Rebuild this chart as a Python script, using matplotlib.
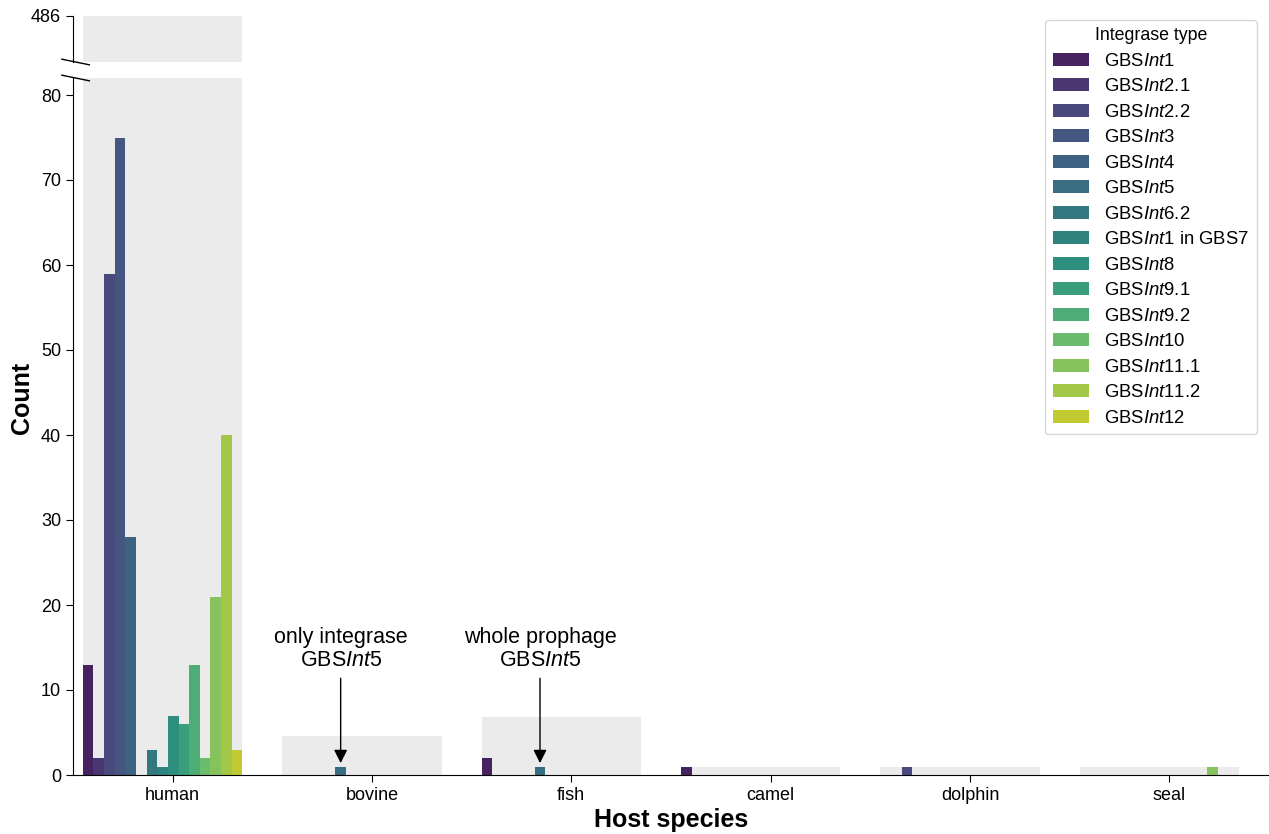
import colorsys
import numpy as np
import matplotlib
matplotlib.use('Agg')
import matplotlib.pyplot as plt

plt.rcParams['font.family'] = ['Liberation Sans', 'DejaVu Sans']
plt.rcParams['mathtext.fontset'] = 'custom'
plt.rcParams['mathtext.rm'] = 'Liberation Sans'
plt.rcParams['mathtext.it'] = 'Liberation Sans:italic'

# data
hosts = ['human', 'bovine', 'fish', 'camel', 'dolphin', 'seal']
int_types = ['1', '2.1', '2.2', '3', '4', '5', '6.2', '1 in GBS7', '8', '9.1',
             '9.2', '10', '11.1', '11.2', '12']
int_labels = [r'GBS$\mathit{Int}$' + t.split(' ')[0] + (' in GBS7' if 'GBS7' in t else '')
              for t in int_types]

human = [13, 2, 59, 75, 28, 0, 3, 1, 7, 6, 13, 2, 21, 40, 3]
bovine = [0, 0, 0, 0, 0, 1, 0, 0, 0, 0, 0, 0, 0, 0, 0]
fish = [2, 0, 0, 0, 0, 1, 0, 0, 0, 0, 0, 0, 0, 0, 0]
camel = [1, 0, 0, 0, 0, 0, 0, 0, 0, 0, 0, 0, 0, 0, 0]
dolphin = [0, 0, 1, 0, 0, 0, 0, 0, 0, 0, 0, 0, 0, 0, 0]
seal = [0, 0, 0, 0, 0, 0, 0, 0, 0, 0, 0, 0, 1, 0, 0]
counts = np.array([human, bovine, fish, camel, dolphin, seal])

totals = [486, 4.6, 6.8, 1, 1, 1]


# viridis colours, desaturated like seaborn does
def desat(c, prop=0.75):
    h, l, s = colorsys.rgb_to_hls(*c[:3])
    return colorsys.hls_to_rgb(h, l, s * prop)


cmap = plt.get_cmap('viridis')
n = len(int_types)
colors = [desat(cmap(v)) for v in np.linspace(0, 1, n + 2)[1:-1]]

W, H = 1269, 834
fig = plt.figure(figsize=(W / 100, H / 100), dpi=100)
left = 72.85 / W
ax = fig.add_axes([left, 59 / H, 1 - left, 697 / H])
ax_top = fig.add_axes([left, 772 / H, 1 - left, 46.3 / H])

x = np.arange(len(hosts))
shift = -0.05
group_w = 0.8
bw = group_w / n

for a in (ax, ax_top):
    a.bar(x + shift, totals, width=group_w, color='#ebebeb', zorder=1)
    for j in range(n):
        a.bar(x + shift - group_w / 2 + bw * (j + 0.5), counts[:, j], width=bw,
              color=colors[j], label=int_labels[j], zorder=2)
    a.set_xlim(-0.5, 5.5)
    a.spines['top'].set_visible(False)
    a.spines['right'].set_visible(False)
    a.tick_params(labelsize=13, length=5)

ax.set_ylim(0, 82)
ax.set_yticks(np.arange(0, 81, 10))
ax.set_xticks(x)
ax.set_xticklabels(hosts)

ax_top.set_ylim(440, 486)
ax_top.set_yticks([486])
ax_top.spines['bottom'].set_visible(False)
ax_top.set_xticks([])

fig.text(22 / W, 1 - 398 / H, 'Count', rotation=90, fontsize=18, fontweight='bold',
         ha='center', va='center')
ax.set_xlabel('Host species', fontsize=18, fontweight='bold', labelpad=3)

# break marks on the y axis
for yy in (62, 78):
    fig.add_artist(plt.Line2D([(left * W - 11) / W, (left * W + 16.5) / W],
                              [(H - yy + 2.8) / H, (H - yy - 2.8) / H],
                              color='black', lw=1, transform=fig.transFigure))

# annotations
for xi, txt in [(1, 'only integrase\nGBS$\\mathit{Int}$5'),
                (2, 'whole prophage\nGBS$\\mathit{Int}$5')]:
    xb = xi + shift - group_w / 2 + bw * 5.5
    ax.annotate(txt, xy=(xb, 1.4), xytext=(xb, 12.2), ha='center', va='bottom',
                fontsize=15.5, linespacing=1.15,
                arrowprops=dict(arrowstyle='-|>', color='black', lw=1,
                                mutation_scale=20, shrinkA=3, shrinkB=0))

handles, labels = ax.get_legend_handles_labels()
fig.legend(handles, labels, title='Integrase type', loc='upper right',
           bbox_to_anchor=(1256.7 / W, 1 - 20 / H), bbox_transform=fig.transFigure,
           borderaxespad=0, fontsize=13.3, title_fontsize=12.8, handlelength=2.0,
           labelspacing=0.46)

fig.savefig('out.png', dpi=100)
